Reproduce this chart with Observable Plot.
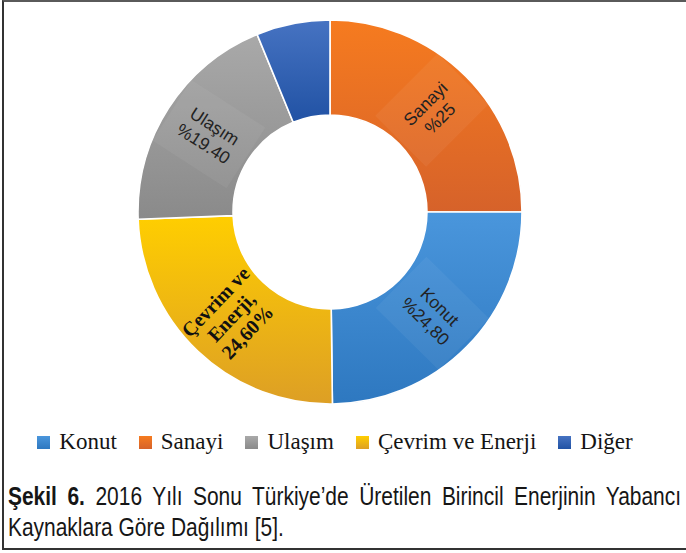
<!DOCTYPE html>
<html>
<head>
<meta charset="utf-8">
<script src="https://cdn.jsdelivr.net/npm/d3@7"></script>
<script src="https://cdn.jsdelivr.net/npm/@observablehq/plot@0.6"></script>
<style>
html, body { margin: 0; padding: 0; background: #fff; }
#wrap { position: relative; width: 686px; height: 553px; overflow: hidden; background: #fff; }
#frame { position: absolute; left: 2px; top: 0; width: 720px; height: 550px; box-sizing: border-box;
  border-left: 2px solid #333; border-top: 2px solid #5a5a5a; border-bottom: 2px solid #333; }
#chart { position: absolute; left: 0; top: 0; }
#legend { position: absolute; left: -8px; width: 686px; top: 429px; display: flex; justify-content: center;
  font-family: "Liberation Serif", "Times New Roman", serif; font-size: 23px; color: #141414; }
.item { display: flex; align-items: center; margin: 0 11px; }
.sw { width: 13px; height: 13px; margin-right: 9px; display: inline-block; }
#caption { position: absolute; left: 8px; top: 482px; width: 673px; color: #161616;
  font-family: "Liberation Sans Narrow", "Arial Narrow", "Liberation Sans", sans-serif;
  transform-origin: 0 0; transform: scaleY(1.22); }
#caption div { white-space: nowrap; line-height: 24.6px; }
#cap1 { text-align: justify; text-align-last: justify; white-space: normal !important; }
</style>
</head>
<body>
<div id="wrap">
  <div id="frame"></div>
  <div id="chart"></div>
  <div id="legend"></div>
  <div id="caption"><div id="cap1"></div><div id="cap2"></div></div>
</div>
<script>
// ---- data ----
const categories = ["Sanayi", "Konut", "Çevrim ve Enerji", "Ulaşım", "Diğer"]; // clockwise from 12 o'clock
const values = [25, 24.8, 24.6, 19.4, 6.2];
const sliceLabels = ["Sanayi\n%25", "Konut\n%24,80", "Çevrim ve\nEnerji,\n24,60%", "Ulaşım\n%19.40", ""];
const legendOrder = ["Konut", "Sanayi", "Ulaşım", "Çevrim ve Enerji", "Diğer"];
const captionBold = "Şekil 6.";
const captionLine1 = "2016 Yılı Sonu Türkiye’de Üretilen Birincil Enerjinin Yabancı";
const captionLine2 = "Kaynaklara Göre Dağılımı [5].";

// ---- styles ----
const gradTop = {"Sanayi": "#F67B1F", "Konut": "#4A96DC", "Çevrim ve Enerji": "#FFCE00", "Ulaşım": "#A9A9A9", "Diğer": "#4673C2"};
const gradBottom = {"Sanayi": "#D6622A", "Konut": "#2E78C0", "Çevrim ve Enerji": "#DD9F25", "Ulaşım": "#8A8A8A", "Diğer": "#2152A4"};
const innerRatio = 0.505;
const labelRadius = 0.75;

const total = d3.sum(values);
let acc = 0;
const slices = categories.map((c, i) => {
  const a0 = acc / total * 2 * Math.PI;
  acc += values[i];
  const a1 = acc / total * 2 * Math.PI;
  const mid = (a0 + a1) / 2;
  let rot = mid * 180 / Math.PI - 90;
  if (rot > 90) rot -= 180;
  if (rot < -90) rot += 180;
  return {cat: c, value: values[i], a0, a1, mid, rot, label: sliceLabels[i],
          lx: labelRadius * Math.sin(mid), ly: labelRadius * Math.cos(mid), i};
});

const donut = (index, scales, vals, dims) => {
  const g = d3.create("svg:g");
  const cx = scales.x(0), cy = scales.y(0);
  const R = scales.x(1) - cx;
  const arc = d3.arc().innerRadius(R * innerRatio).outerRadius(R);
  const defs = g.append("defs");
  slices.forEach(s => {
    const lg = defs.append("linearGradient").attr("id", "grad" + s.i)
      .attr("x1", 0).attr("y1", 0).attr("x2", 0).attr("y2", 1);
    lg.append("stop").attr("offset", 0).attr("stop-color", gradTop[s.cat]);
    lg.append("stop").attr("offset", 1).attr("stop-color", gradBottom[s.cat]);
  });
  g.append("g").attr("transform", `translate(${cx},${cy})`)
    .selectAll("path").data(slices).join("path")
    .attr("d", d => arc({startAngle: d.a0, endAngle: d.a1}))
    .attr("fill", d => `url(#grad${d.i})`)
    .attr("stroke", "#fff").attr("stroke-width", 1.6);
  // faint label boxes (sans-serif labels)
  g.append("g").selectAll("rect").data(slices.filter(s => s.label && s.cat !== "Çevrim ve Enerji")).join("rect")
    .attr("x", -44).attr("y", -36).attr("width", 88).attr("height", 72)
    .attr("transform", d => `translate(${scales.x(d.lx)},${scales.y(d.ly)}) rotate(${d.rot})`)
    .attr("fill", "#fff").attr("fill-opacity", 0.05);
  return g.node();
};

const plot = Plot.plot({
  width: 686, height: 425,
  margin: 0,
  x: {domain: [-1, 1], range: [138, 522], axis: null},
  y: {domain: [-1, 1], range: [404, 20], axis: null},
  marks: [
    donut,
    Plot.text(slices.filter(s => s.label && s.cat !== "Çevrim ve Enerji"), {
      x: "lx", y: "ly", text: "label", rotate: "rot",
      fontFamily: "Liberation Sans, Arial, sans-serif", fontSize: 17.5, lineHeight: 1.17,
      fill: "#222", textAnchor: "middle", lineAnchor: "middle"
    }),
    Plot.text(slices.filter(s => s.cat === "Çevrim ve Enerji"), {
      x: "lx", y: "ly", text: "label", rotate: "rot",
      fontFamily: "Liberation Serif, Times New Roman, serif", fontSize: 20, fontWeight: "bold", lineHeight: 1.1,
      fill: "#111", textAnchor: "middle", lineAnchor: "middle"
    })
  ]
});
document.getElementById("chart").appendChild(plot);

// legend
const legend = d3.select("#legend");
legendOrder.forEach(c => {
  const it = legend.append("div").attr("class", "item");
  it.append("span").attr("class", "sw")
    .style("background", `linear-gradient(${gradTop[c]}, ${gradBottom[c]})`);
  it.append("span").text(c);
});

// caption
const fontFam = '"Liberation Sans Narrow", "Arial Narrow", "Liberation Sans", sans-serif';
const cv = document.createElement("canvas").getContext("2d");
cv.font = `100px ${fontFam}`;
const w = cv.measureText(captionLine2).width;
const fs = Math.min(26, 100 * 276 / w);
document.getElementById("caption").style.fontSize = fs + "px";
const c1 = d3.select("#cap1");
c1.append("b").text(captionBold);
c1.append("span").text(" " + captionLine1);
d3.select("#cap2").text(captionLine2);
</script>
</body>
</html>
